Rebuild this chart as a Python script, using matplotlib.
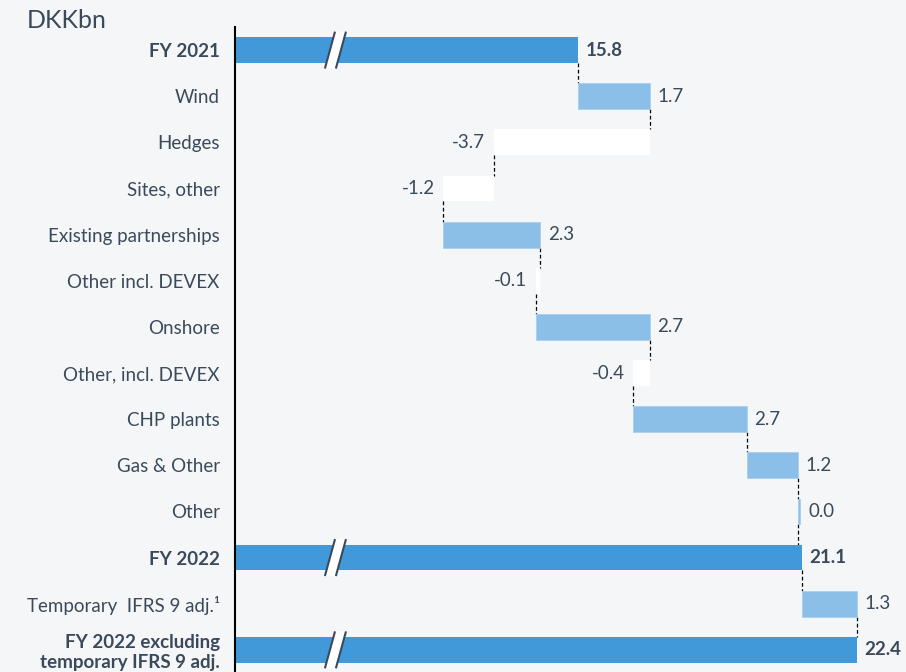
import matplotlib
matplotlib.use('Agg')
import matplotlib.pyplot as plt
from matplotlib.patches import Polygon

plt.rcParams['font.family'] = ['Lato', 'DejaVu Sans']

# datos del puente EBITDA
categorias = ['FY 2021', 'Wind', 'Hedges', 'Sites, other', 'Existing partnerships',
              'Other incl. DEVEX', 'Onshore', 'Other, incl. DEVEX', 'CHP plants',
              'Gas & Other', 'Other', 'FY 2022', 'Temporary  IFRS 9 adj.\u00b9',
              'FY 2022 excluding\ntemporary IFRS 9 adj.']
valores = [15.8, 1.7, -3.7, -1.2, 2.3, -0.1, 2.7, -0.4, 2.7, 1.2, 0.0, 21.1, 1.3, 22.4]
es_total = [True, False, False, False, False, False, False, False, False, False, False,
            True, False, True]

c_total = '#4199d9'
c_pos = '#8bbfe8'
c_neg = '#ffffff'
c_txt = '#3b4a5a'
fondo = '#f5f6f8'

x0 = 7.67
h = 0.56

fig = plt.figure(figsize=(9.06, 6.72), dpi=100, facecolor=fondo)
ax = fig.add_axes([235 / 906, 0, 1 - 235 / 906, 1 - 27 / 672])
ax.set_facecolor(fondo)

acum = 0
fines = []
for i, (cat, v, t) in enumerate(zip(categorias, valores, es_total)):
    if t:
        ax.barh(i, v - x0, left=x0, height=h, color=c_total, zorder=2)
        acum = v
        ax.text(v + 0.18, i, f'{v:.1f}', va='center', ha='left', fontsize=13.5,
                fontweight='bold', color=c_txt)
        # marca de eje cortado
        bx = 10.05
        dx = 0.12
        dy = h / 2 + 0.12
        poly = Polygon([(bx - dx - 0.13, i + dy), (bx + dx - 0.13, i - dy),
                        (bx + dx + 0.13, i - dy), (bx - dx + 0.13, i + dy)],
                       closed=True, facecolor='white', edgecolor='none', zorder=3)
        ax.add_patch(poly)
        for s in (-0.13, 0.13):
            ax.plot([bx - dx + s, bx + dx + s], [i + dy, i - dy], color='#3b4a5a',
                    lw=1.5, zorder=4, solid_capstyle='butt')
    else:
        ancho = v if abs(v) > 0.05 else 0.07
        if v >= 0:
            ax.barh(i, ancho, left=acum, height=h, color=c_pos, zorder=2,
                    edgecolor='#a9d0ee', lw=0.6)
            ax.text(acum + ancho + 0.18, i, f'{v:.1f}', va='center', ha='left',
                    fontsize=13.5, color=c_txt)
        else:
            ax.barh(i, -v, left=acum + v, height=h, color=c_neg, zorder=2)
            ax.text(acum + v - 0.2, i, f'{v:.1f}', va='center', ha='right',
                    fontsize=13.5, color=c_txt)
        acum = acum + v
    fines.append(acum)

# conectores punteados
for i in range(len(valores) - 1):
    ax.plot([fines[i], fines[i]], [i + h / 2, i + 1 - h / 2], color='black', lw=0.9,
            ls=(0, (3, 2)), zorder=1)

ax.set_xlim(x0, x0 + (906 - 235) / 42.2)
ax.set_ylim(13.48, -0.5)
ax.set_yticks(range(len(categorias)))
ax.set_yticklabels(categorias, fontsize=13.5, color=c_txt, linespacing=1.2)
for lbl, t in zip(ax.get_yticklabels(), es_total):
    if t:
        lbl.set_fontweight('bold')
ax.tick_params(axis='y', length=0, pad=11)
ax.set_xticks([])
for s in ['top', 'right', 'bottom']:
    ax.spines[s].set_visible(False)
ax.spines['left'].set_color('black')
ax.spines['left'].set_linewidth(1.5)

fig.text(27 / 906, 1 - 20 / 672, 'DKKbn', fontsize=18, color=c_txt, va='center', ha='left')

fig.savefig('out.png', dpi=100, facecolor=fondo)
